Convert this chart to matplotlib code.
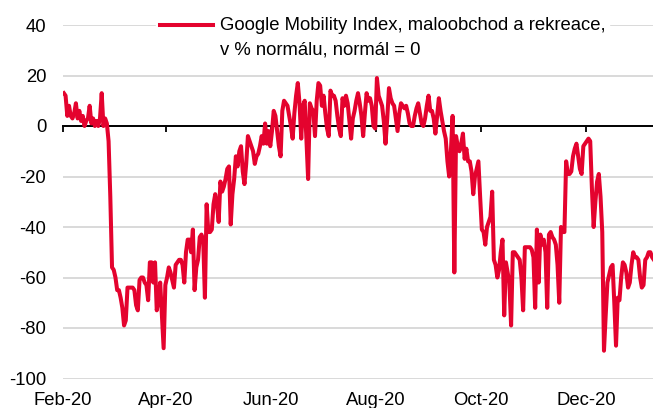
import numpy as np
import pandas as pd
import matplotlib
matplotlib.use("Agg")
import matplotlib.pyplot as plt
import matplotlib.dates as mdates
from matplotlib.legend_handler import HandlerLine2D

plt.rcParams['font.family'] = ['Liberation Sans', 'DejaVu Sans']

# ---------------- data ----------------
start_date = "2020-02-15"
values = [
    13, 12, 4, 8, 4, 3, 5, 9, 3, 6,
    2, 4, 0, 2, 3, 8, 1, 3, 0, 2,
    0, 3, 13, 0, 3, 1, -6, -28, -56, -57,
    -60, -65, -65, -68, -72, -79, -77, -64, -64, -64,
    -64, -65, -71, -73, -61, -60, -60, -62, -63, -69,
    -54, -54, -62, -54, -73, -69, -62, -75, -88, -63,
    -60, -56, -58, -61, -64, -55, -54, -53, -53, -55,
    -62, -50, -45, -45, -50, -41, -65, -56, -53, -44,
    -43, -45, -68, -31, -42, -42, -41, -31, -27, -31,
    -38, -22, -26, -24, -21, -17, -16, -39, -27, -21,
    -12, -16, -10, -8, -18, -23, -15, -4, -6, -8,
    -10, -15, -12, -11, -8, -4, -7, 1, -7, -2,
    -8, -2, 6, 4, -2, -8, -12, 6, 10, 9,
    8, 4, 0, -5, 5, 12, 17, 9, -5, 8,
    10, -5, -21, 9, 7, 6, -4, 10, 17, 16,
    8, 12, 5, -1, -4, 14, 12, 12, 10, 4,
    -1, -4, 11, 8, 12, 9, 2, -5, 3, 6,
    10, 13, 9, 4, -4, 5, 13, 10, 11, 8,
    0, -1, 19, 12, 10, 8, 2, -7, 3, 15,
    11, 9, 8, 3, -2, 5, 9, 8, 7, 8,
    5, 1, 0, 0, 4, 7, 9, 5, 1, 0,
    3, 8, 12, 6, 6, 3, -3, 4, 11, 6,
    2, -2, -5, -14, -20, -10, 4, -58, -4, -8,
    -10, -7, -3, -13, -9, -14, -14, -18, -27, -20,
    -17, -14, -28, -41, -42, -47, -40, -38, -36, -26,
    -53, -55, -60, -57, -50, -45, -75, -54, -58, -62,
    -79, -50, -50, -51, -52, -53, -60, -73, -48, -48,
    -48, -48, -49, -52, -72, -41, -62, -43, -47, -45,
    -50, -72, -43, -42, -44, -45, -47, -55, -70, -40,
    -42, -42, -14, -19, -19, -18, -12, -9, -7, -12,
    -17, -19, -8, -7, -6, -5, -6, -25, -40, -30,
    -22, -19, -28, -42, -89, -75, -62, -59, -56, -55,
    -70, -87, -68, -69, -60, -54, -55, -58, -64, -62,
    -55, -50, -52, -52, -53, -60, -64, -63, -53, -52,
    -50, -50, -52, -53,
]
tick_dates = ["2020-02-15", "2020-04-15", "2020-06-15",
              "2020-08-15", "2020-10-15", "2020-12-15"]
tick_labels = ["Feb-20", "Apr-20", "Jun-20", "Aug-20", "Oct-20", "Dec-20"]
y_ticks = [40, 20, 0, -20, -40, -60, -80, -100]
series_label = "Google Mobility Index, maloobchod a rekreace,\nv % normálu, normál = 0"

RED = "#E4032E"
FS = 13.3
LINESP = 1.62


class FirstLineHandler(HandlerLine2D):
    """Legend line aligned with the first line of a two-line label."""
    def __init__(self, shift, **kw):
        super().__init__(**kw)
        self.shift = shift

    def create_artists(self, legend, orig_handle, xdescent, ydescent,
                       width, height, fontsize, trans):
        arts = super().create_artists(legend, orig_handle, xdescent, ydescent,
                                      width, height, fontsize, trans)
        for a in arts:
            a.set_ydata(np.asarray(a.get_ydata(), dtype=float) + self.shift)
        return arts


dates = pd.date_range(start_date, periods=len(values), freq="D")
x = mdates.date2num(dates) + 0.5
x0 = mdates.date2num(pd.Timestamp(start_date))

fig = plt.figure(figsize=(6.53, 4.08), dpi=100)
ax = fig.add_axes([63 / 653, 29.5 / 408, 590 / 653, 353.5 / 408])

line, = ax.plot(x, values, color=RED, lw=2.9, solid_joinstyle="round",
                label=series_label, zorder=3)

ax.set_ylim(-100, 40)
ax.set_xlim(x0, x0 + 343)
ax.set_yticks(y_ticks)
ax.set_yticklabels([str(v) for v in y_ticks])
ax.tick_params(axis="y", length=0, pad=12, labelsize=FS, colors="black")
ax.grid(axis="y", color="#d9d9d9", lw=1.4)
ax.set_axisbelow(True)
for s in ["top", "right", "left"]:
    ax.spines[s].set_visible(False)
ax.spines["bottom"].set_position(("data", 0))
ax.spines["bottom"].set_color("black")
ax.spines["bottom"].set_linewidth(1.4)
ax.spines["bottom"].set_zorder(2)
ax.set_xticks(mdates.date2num(pd.to_datetime(tick_dates)))
ax.tick_params(axis="x", direction="out", length=4, width=1.3,
               labelbottom=False, colors="black")

sec = ax.secondary_xaxis("bottom")
sec.set_xticks(mdates.date2num(pd.to_datetime(tick_dates)), labels=tick_labels)
sec.tick_params(length=0, pad=9.5, labelsize=FS, colors="black")
sec.spines["bottom"].set_visible(False)

shift_pts = 0.5 * LINESP * 0.885 * FS
leg = ax.legend(handles=[line], loc="upper left",
                bbox_to_anchor=(156 / 653, 1 - 13 / 408),
                bbox_transform=fig.transFigure, frameon=True, fancybox=False,
                fontsize=FS, handlelength=2.86, handletextpad=0.38,
                borderpad=0.2, borderaxespad=0,
                handler_map={line: FirstLineHandler(shift_pts)})
leg.get_frame().set_facecolor("white")
leg.get_frame().set_edgecolor("white")
leg.get_frame().set_alpha(1)
for t in leg.get_texts():
    t.set_linespacing(LINESP)
for l in leg.get_lines():
    l.set_linewidth(2.9)

fig.savefig("out.png", dpi=100, facecolor="white")
